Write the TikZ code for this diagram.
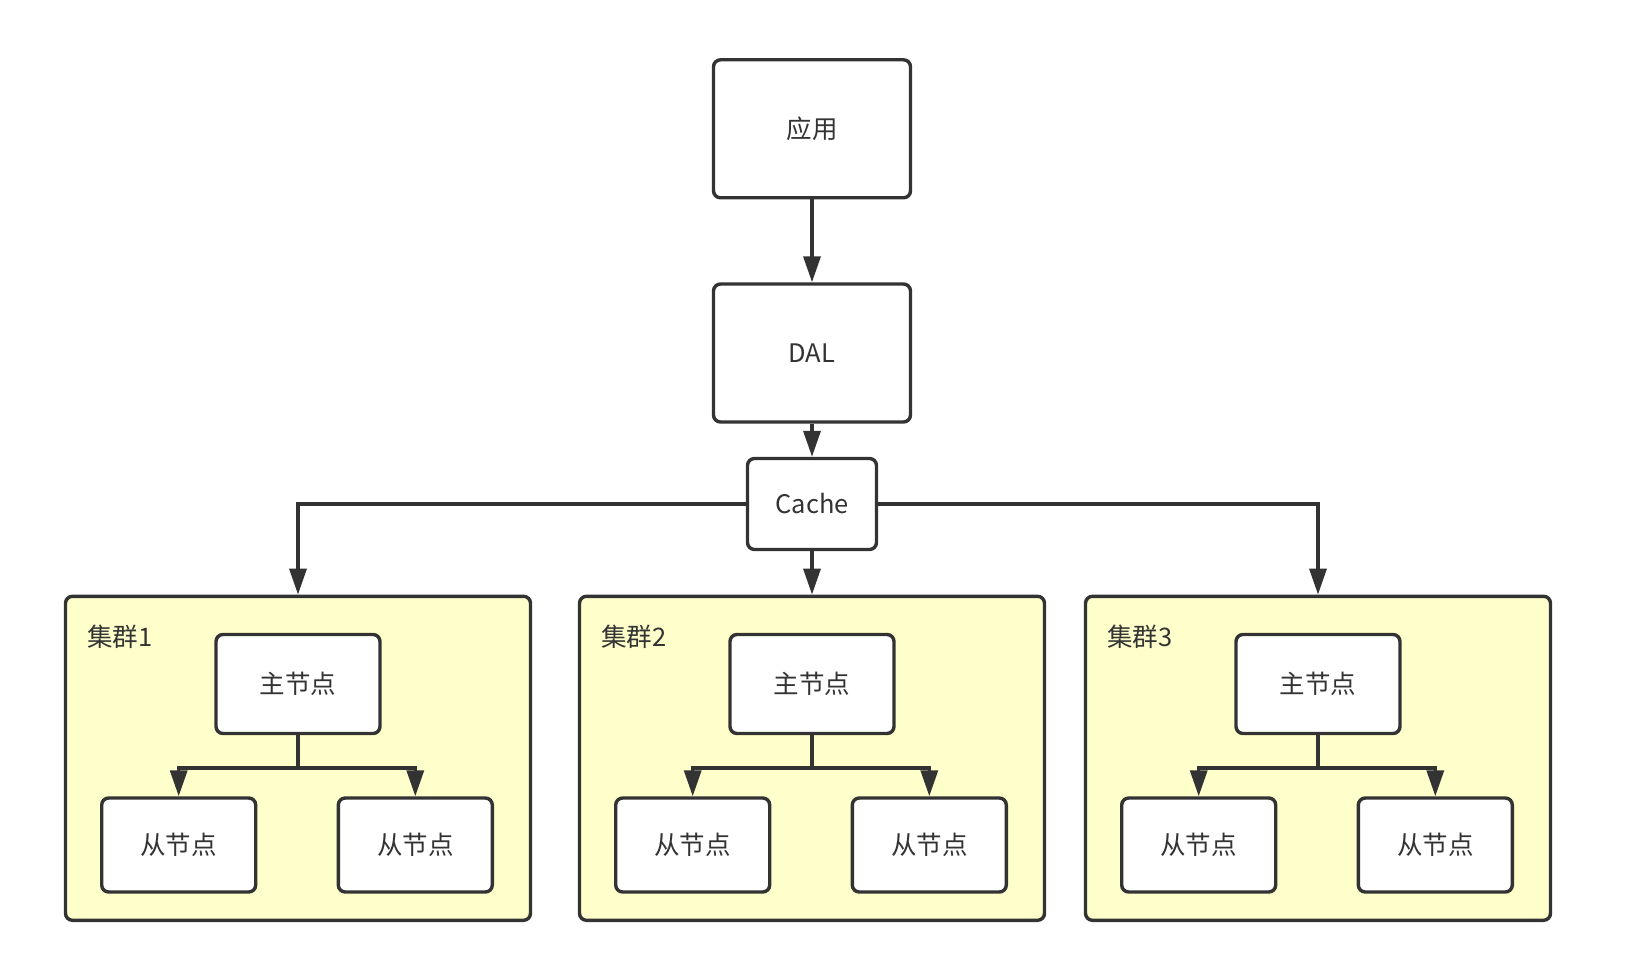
\documentclass[tikz,border=0pt]{standalone}
\usepackage{fontspec}
\setmainfont{Noto Sans CJK SC}
\usetikzlibrary{arrows.meta}
\definecolor{ink}{HTML}{333333}
\definecolor{clfill}{HTML}{FFFFCC}
\tikzset{
  box/.style={draw=ink, line width=3.4pt, rounded corners=7pt, fill=white, text=ink,
    font=\fontsize{25.5}{30}\selectfont, inner sep=0pt},
  bigbox/.style={box, minimum width=197pt, minimum height=138pt},
  cachebox/.style={box, minimum width=129pt, minimum height=91pt},
  masterbox/.style={box, minimum width=164pt, minimum height=99pt},
  slavebox/.style={box, minimum width=154pt, minimum height=94pt},
  clusterbox/.style={box, fill=clfill, minimum width=465pt, minimum height=324pt},
  cllabel/.style={text=ink, font=\fontsize{25.5}{30}\selectfont, anchor=west, inner sep=0pt},
  arr/.style={draw=ink, line width=3.4pt, -{Triangle[length=26pt,width=17pt]}},
  ln/.style={draw=ink, line width=3.4pt}
}
\begin{document}
\begin{tikzpicture}[x=1pt,y=-1pt]
\useasboundingbox (0,0) rectangle (1638,960);
\node[bigbox] (app) at (812,128.8) {应用};
\node[bigbox] (dal) at (812,353) {DAL};
\node[cachebox] (cache) at (812,504) {Cache};

\foreach \i/\dx in {1/0, 2/514, 3/1020} {
  \node[clusterbox] (c\i) at (298+\dx,758.3) {};
  \node[cllabel] (l\i) at (87+\dx,637) {集群\i};
  \node[masterbox] (m\i) at (298+\dx,684) {主节点};
  \node[slavebox] (sa\i) at (178.7+\dx,845) {从节点};
  \node[slavebox] (sb\i) at (415.3+\dx,845) {从节点};
  \coordinate (j\i) at (298+\dx,768);
  \draw[arr] (m\i.south) -- (j\i) -| (sa\i.north);
  \draw[arr] (j\i) -| (sb\i.north);
}

\draw[arr] (app.south) -- (dal.north);
\draw[arr] (dal.south) -- (cache.north);
\draw[arr] (cache.west) -| (c1.north);
\draw[arr] (cache.south) -- (c2.north);
\draw[arr] (cache.east) -| (c3.north);
\end{tikzpicture}
\end{document}
